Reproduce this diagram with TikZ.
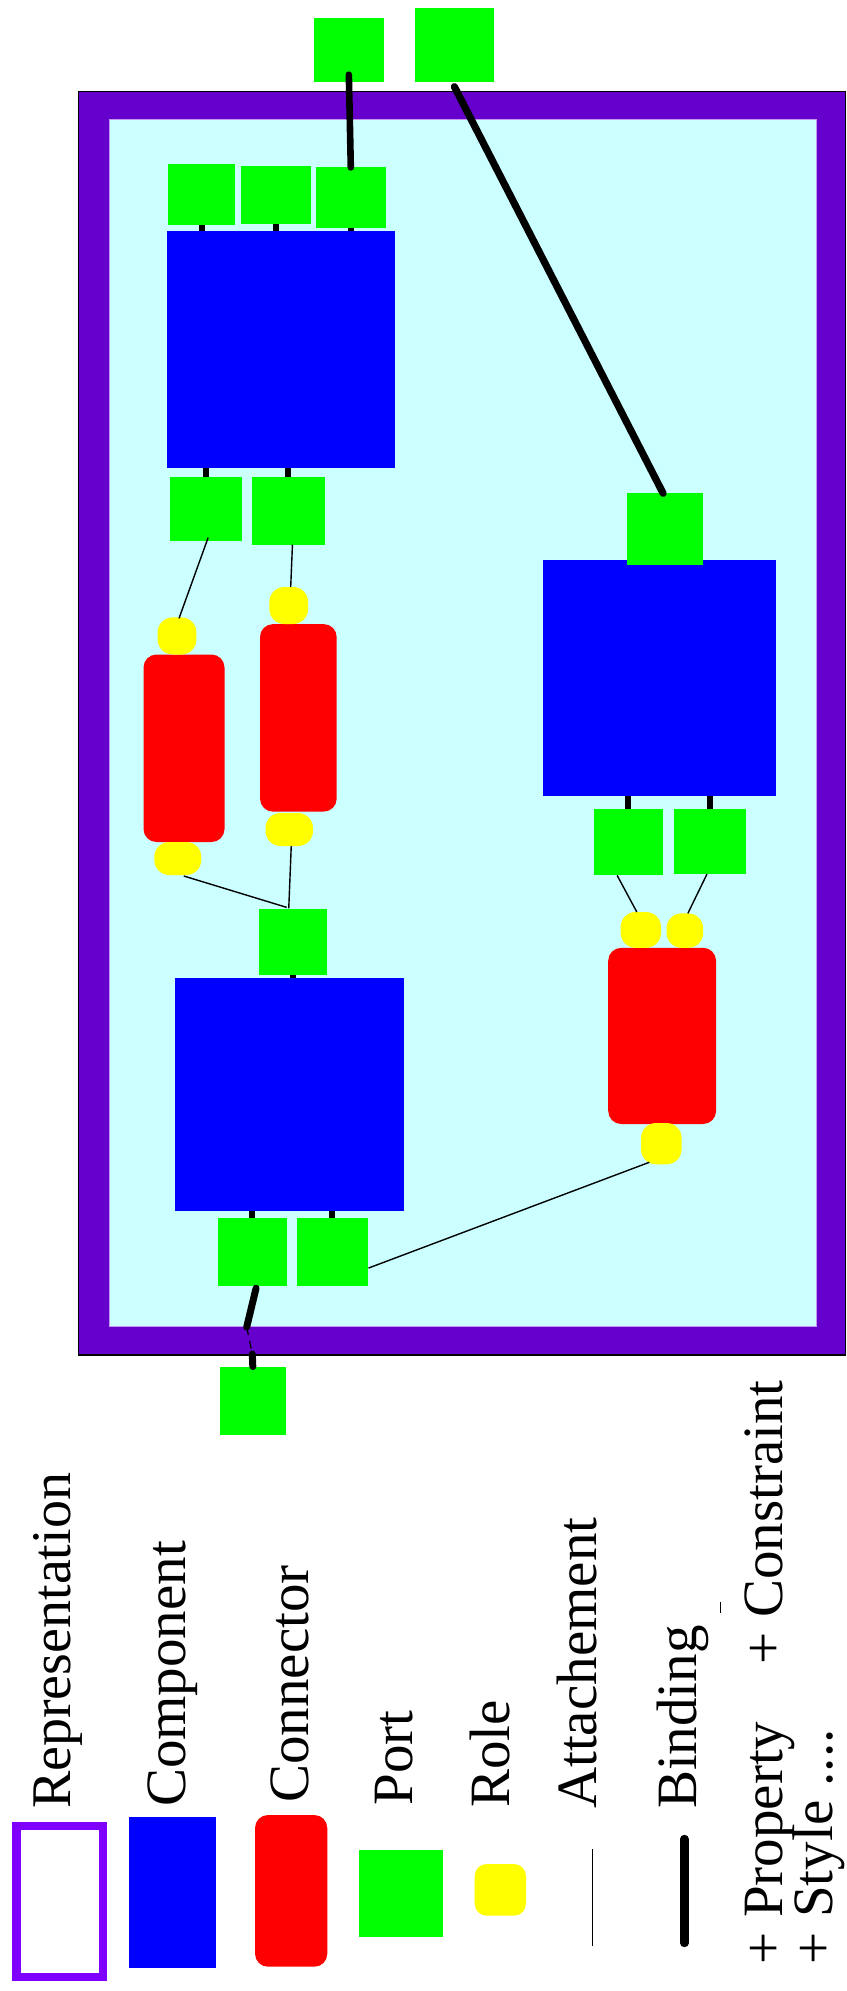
\documentclass[tikz,border=0pt]{standalone}
\usepackage{fontspec}
\setmainfont{Liberation Serif}
\usetikzlibrary{fit,calc}
\definecolor{framepurple}{HTML}{6600CC}
\definecolor{reppurple}{HTML}{8000FF}
\definecolor{paleCyan}{HTML}{CCFFFF}
\definecolor{compblue}{HTML}{0000FF}
\definecolor{connred}{HTML}{FF0000}
\definecolor{portgreen}{HTML}{00FF00}
\definecolor{roleyellow}{HTML}{FFFF00}
\pgfdeclarelayer{framelayer}
\pgfdeclarelayer{stublayer}
\pgfsetlayers{framelayer,stublayer,main}

\begin{document}
\begin{tikzpicture}[x=0.5pt,y=-0.5pt,
  shapebox/.style={inner sep=0pt, outer sep=0pt},
  component/.style={shapebox, fill=compblue},
  portbox/.style={shapebox, fill=portgreen},
  connbox/.style={shapebox, fill=connred, rounded corners=6.5pt},
  rolebox/.style={shapebox, fill=roleyellow, rounded corners=7.5pt},
  attach/.style={line width=0.7pt, draw=black},
  bind/.style={line width=3.5pt, line cap=round},
  stub/.style={line width=3pt},
  legendtext/.style={rotate=90, anchor=base west, inner sep=0pt,
    font=\fontsize{28.5}{30}\selectfont}]
\useasboundingbox (0,0) rectangle (846,1991);

% ---- system frame ----
\begin{pgfonlayer}{framelayer}
\node[shapebox, fill=framepurple, draw=black, line width=0.6pt,
      fit={(78.2,91.7) (845.2,1355)}] (frame) {};
\node[shapebox, fill=paleCyan, draw=framepurple!40, line width=0.4pt,
      fit={(109.5,119.3) (816.7,1326)}] (inner) {};
\end{pgfonlayer}

% ---- components ----
\node[component, fit={(166.8,230.8) (395,467.9)}] (c1) {};
\node[component, fit={(543.4,560.3) (775.5,796)}] (c3) {};
\node[component, fit={(175.4,978) (403.7,1211)}] (c2) {};

% ---- ports ----
\node[portbox, fit={(313.5,18.3) (384.2,81.7)}] (pA) {};
\node[portbox, fit={(414.5,7.6) (494.3,81.7)}] (pB) {};
\node[portbox, fit={(168.4,163.8) (235.3,225.4)}] (p1) {};
\node[portbox, fit={(241.2,165.6) (311.4,224.1)}] (p2) {};
\node[portbox, fit={(315.7,167.4) (385.9,227.7)}] (p3) {};
\node[portbox, fit={(170,476.8) (242.3,540.6)}] (q1) {};
\node[portbox, fit={(251.5,476.8) (325.4,544.6)}] (q2) {};
\node[portbox, fit={(627,493.3) (703.2,565.2)}] (r) {};
\node[portbox, fit={(593.6,808.5) (662.7,875.4)}] (s1) {};
\node[portbox, fit={(673.5,808.5) (746.4,874.1)}] (s2) {};
\node[portbox, fit={(258.5,909.4) (327,974.6)}] (m) {};
\node[portbox, fit={(217.5,1217.9) (286.6,1286.2)}] (t1) {};
\node[portbox, fit={(297.4,1217.9) (367.5,1286.2)}] (t2) {};
\node[portbox, fit={(219.6,1366.5) (286,1435)}] (pC) {};

% ---- connectors ----
\node[connbox, fit={(143.5,654.5) (224.5,842)}] (k1) {};
\node[connbox, fit={(260,624.1) (336.7,811.6)}] (k2) {};
\node[connbox, fit={(608.2,947.8) (716.1,1124)}] (k3) {};

% ---- roles ----
\node[rolebox, fit={(157.6,617.4) (196.4,654.5)}] (r1t) {};
\node[rolebox, fit={(269.3,587) (308.1,624)}] (r2t) {};
\node[rolebox, fit={(154.3,842) (201.3,875)}] (r1b) {};
\node[rolebox, fit={(265.5,813) (313,846)}] (r2b) {};
\node[rolebox, fit={(620.6,912) (661,947.8)}] (r3a) {};
\node[rolebox, fit={(666.5,913.4) (703.2,947.8)}] (r3b) {};
\node[rolebox, fit={(641,1123) (681.6,1164.3)}] (r3c) {};

% ---- ports fixed to their components (drawn beneath both) ----
\begin{pgfonlayer}{stublayer}
\draw[stub, xshift=-1pt] (p1.center) -- (p1.center |- c1.center);
\draw[stub, xshift=-1pt] (p2.center) -- (p2.center |- c1.center);
\draw[stub, xshift=-1pt] (p3.center) -- (p3.center |- c1.center);
\draw[stub, xshift=-2pt] (q1.center) -- (q1.center |- c1.center);
\draw[stub, xshift=-2pt] (q2.center) -- (q2.center |- c1.center);
\draw[stub, xshift=-1pt] (s1.center) -- (s1.center |- c3.center);
\draw[stub] (s2.center) -- (s2.center |- c3.center);
\draw[stub, xshift=-2.5pt] (m.center) -- (m.center |- c2.center);
\draw[stub, xshift=-1pt] (t1.center) -- (t1.center |- c2.center);
\draw[stub, xshift=1pt] (t2.center) -- (t2.center |- c2.center);
\end{pgfonlayer}

% ---- attachments ----
\draw[attach] ($(q1.south)+(2,-3)$) -- ($(r1t.north)+(2,1)$);
\draw[attach] ($(q2.south)+(4,0)$) -- ($(r2t.north)+(2,0)$);
\draw[attach] ($(r1b.south)+(6,1)$) -- ($(m.north)+(-6,-2)$);
\draw[attach] ($(r2b.south)+(2,0)$) -- ($(m.north)+(-4,-1)$);
\draw[attach] ($(s1.south)+(-11,0)$) -- ($(r3a.north)+(-4,0)$);
\draw[attach] ($(s2.south)+(-3,0)$) -- ($(r3b.north)+(3,0)$);
\draw[attach] ($(t2.east)+(1,16)$) -- ($(r3c.south)+(-12,-2)$);

% ---- bindings ----
\draw[bind, line width=3.3pt] ($(pA.south)+(0,-7)$) -- (p3.north);
\draw[bind, line width=3.6pt] ($(pB.south)+(0,5)$) -- ($(r.north)+(-2,0)$);
\coordinate (bIn) at (246.7,1327);
\coordinate (bOut) at (252.3,1354);
\draw[bind] ($(t1.south)+(4,2)$) -- (bIn);
\draw[line width=0.6pt, dash pattern=on 4pt off 3pt] (bIn) -- (bOut);
\draw[bind] (bOut) -- (pC.north);

% ---- legend ----
\node[shapebox, draw=reppurple, line width=4.25pt,
      fit={(16.5,1826) (103,1977)}] (legRep) {};
\node[component, fit={(129.3,1816.7) (216,1968.3)}] (legComp) {};
\node[connbox, fit={(255,1815) (327.3,1966.7)}] (legConn) {};
\node[portbox, fit={(359.3,1850.3) (442.7,1937.3)}] (legPort) {};
\node[rolebox, rounded corners=6pt, fit={(474.7,1864) (526,1915.7)}] (legRole) {};
\coordinate (legAttA) at (592.7,1849.3);
\coordinate (legAttB) at (592.7,1946);
\draw[attach] (legAttA) -- (legAttB);
\coordinate (legBindA) at (684.3,1839);
\coordinate (legBindB) at (684.3,1943);
\draw[bind, line width=4.2pt] (legBindA) -- (legBindB);
\coordinate (legTickA) at (720.5,1602);
\coordinate (legTickB) at (720.5,1613);
\draw[line width=0.6pt] (legTickA) -- (legTickB);

\node[legendtext, font=\fontsize{28}{30}\selectfont] (tRep) at (70,1809.3) {Representation};
\node[legendtext] (tComp) at (185,1807.3) {Component};
\node[legendtext] (tConn) at (308,1803) {Connector};
\node[legendtext] (tPort) at (412.7,1806) {Port};
\node[legendtext] (tRole) at (509.3,1808.3) {Role};
\node[legendtext] (tAtt) at (596.7,1809.3) {Attachement};
\node[legendtext] (tBind) at (696,1809.3) {Binding};
\node[legendtext] (tProp) at (782,1964.6) {+ Property};
\node[legendtext] (tCons) at (782,1664.5) {+ Constraint};
\node[legendtext] (tStyle) at (832.7,1964.6) {+ Style ....};
\end{tikzpicture}
\end{document}
